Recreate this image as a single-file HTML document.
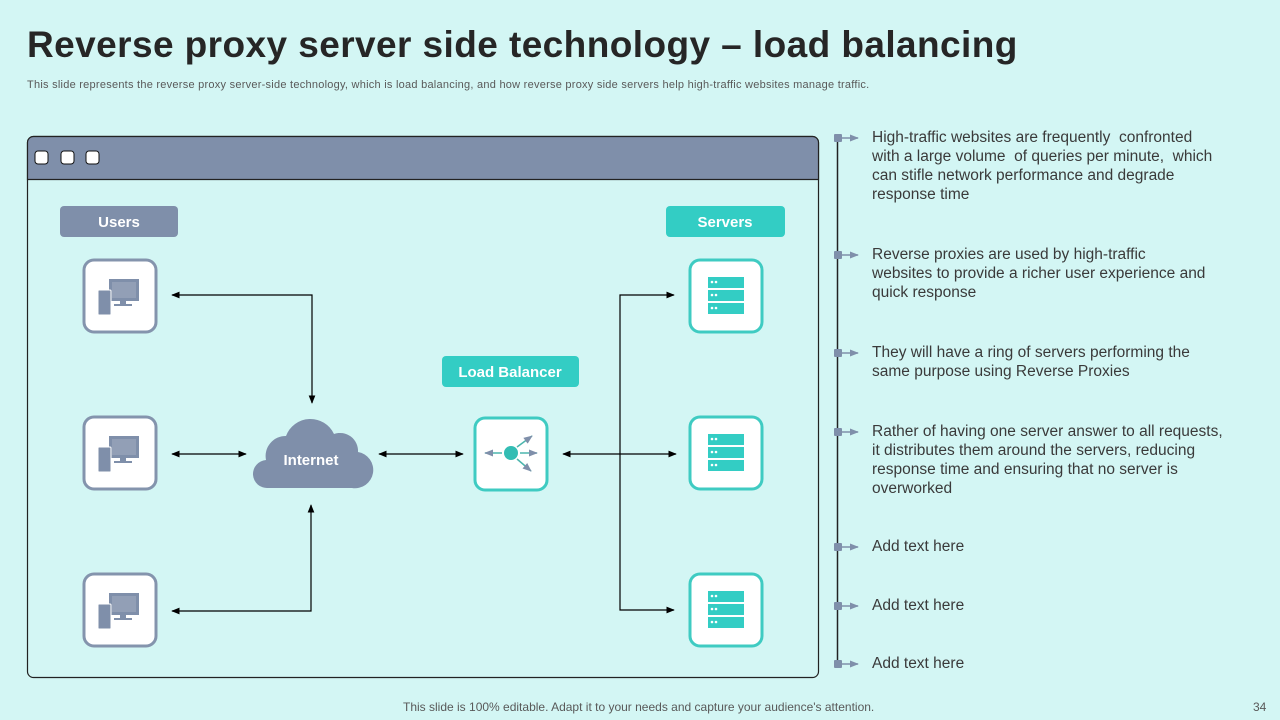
<!DOCTYPE html>
<html><head><meta charset="utf-8"><style>
body{margin:0;width:1280px;height:720px;background:#d3f6f4;font-family:"Liberation Sans",sans-serif;position:relative;overflow:hidden}
.t{position:absolute;left:27px;top:24px;font-size:37px;font-weight:bold;color:#262626;margin:0;white-space:nowrap;letter-spacing:0.42px}
.s{position:absolute;left:27px;top:79px;font-size:11px;color:#595959;letter-spacing:0.25px;white-space:nowrap}
.b{position:absolute;left:872px;font-size:15.5px;line-height:19px;color:#3a3a3a}
.f{position:absolute;top:700px;font-size:12px;color:#595959}
</style></head><body>
<div class="t">Reverse proxy server side technology – load balancing</div>
<div class="s">This slide represents the reverse proxy server-side technology, which is load balancing, and how reverse proxy side servers help high-traffic websites manage traffic.</div>
<svg width="1280" height="720" style="position:absolute;left:0;top:0">
<defs><marker id="a" viewBox="0 0 10 10" refX="9" refY="5" markerWidth="7" markerHeight="7" orient="auto-start-reverse"><path d="M0,1L10,5L0,9z" fill="#000"/></marker>
<marker id="g" viewBox="0 0 10 10" refX="9" refY="5" markerWidth="6" markerHeight="6" orient="auto"><path d="M0,1L10,5L0,9z" fill="#7f8faa"/></marker></defs>
<rect x="27.5" y="136.5" width="791" height="541" rx="6" fill="none" stroke="#222" stroke-width="1.2"/>
<path d="M27.5,179.5V142.5a6,6 0 0 1 6,-6H812.5a6,6 0 0 1 6,6V179.5Z" fill="#7f8faa" stroke="#222" stroke-width="1.2"/>
<g fill="#fff" stroke="#111" stroke-width="1"><rect x="35" y="151" width="13" height="13" rx="3"/><rect x="61" y="151" width="13" height="13" rx="3"/><rect x="86" y="151" width="13" height="13" rx="3"/></g>
<rect x="60" y="206" width="118" height="31" rx="4" fill="#7f8faa"/>
<text x="119" y="227" fill="#fff" font-size="15" font-weight="bold" text-anchor="middle">Users</text>
<rect x="666" y="206" width="119" height="31" rx="4" fill="#33cdc4"/>
<text x="725" y="227" fill="#fff" font-size="15" font-weight="bold" text-anchor="middle">Servers</text>
<rect x="442" y="356" width="137" height="31" rx="4" fill="#33cdc4"/>
<text x="510" y="377" fill="#fff" font-size="15" font-weight="bold" text-anchor="middle">Load Balancer</text>
<g id="u"><rect x="84" y="260" width="72" height="72" rx="10" fill="#fff" stroke="#8494ad" stroke-width="3"/>
<rect x="109" y="279" width="30" height="22" fill="#7f8faa"/><rect x="112" y="282" width="24" height="16" fill="#fff" opacity=".15"/><rect x="120" y="301" width="6" height="4" fill="#7f8faa"/><rect x="114" y="304" width="18" height="2" fill="#7f8faa"/>
<rect x="98" y="290" width="13" height="25" rx="1" fill="#7f8faa" stroke="#fff"/></g>
<use href="#u" y="157"/><use href="#u" y="314"/>
<g id="sv"><rect x="690" y="260" width="72" height="72" rx="10" fill="#fff" stroke="#3fcbc2" stroke-width="3"/>
<g fill="#33cdc4"><rect x="708" y="277" width="36" height="11"/><rect x="708" y="290" width="36" height="11"/><rect x="708" y="303" width="36" height="11"/></g>
<g fill="#fff"><circle cx="712" cy="282" r="1.3"/><circle cx="716" cy="282" r="1.3"/><circle cx="712" cy="295" r="1.3"/><circle cx="716" cy="295" r="1.3"/><circle cx="712" cy="308" r="1.3"/><circle cx="716" cy="308" r="1.3"/></g></g>
<use href="#sv" y="157"/><use href="#sv" y="314"/>
<rect x="475" y="418" width="72" height="72" rx="10" fill="#fff" stroke="#3fcbc2" stroke-width="3"/>
<circle cx="511" cy="453" r="7" fill="#33bdb4"/>
<g stroke="#4bb5ad" stroke-width="1.5"><line x1="502" y1="453" x2="485" y2="453" marker-end="url(#g)"/><line x1="520" y1="453" x2="537" y2="453" marker-end="url(#g)"/><line x1="517" y1="447" x2="532" y2="436" marker-end="url(#g)"/><line x1="517" y1="459" x2="531" y2="471" marker-end="url(#g)"/></g>
<path d="M268,488 a14,14 0 0 1 -2,-28 a20,20 0 0 1 20,-24 a26,26 0 0 1 48,-2 a18,18 0 0 1 24,18 a16,16 0 0 1 -6,36 z" fill="#7f8faa"/>
<text x="311" y="465" fill="#fff" font-size="15" font-weight="bold" text-anchor="middle">Internet</text>
<g stroke="#000" stroke-width="1.2" fill="none">
<path d="M312,403V295H172" marker-end="url(#a)" marker-start="url(#a)"/>
<line x1="172" y1="454" x2="246" y2="454" marker-start="url(#a)" marker-end="url(#a)"/>
<path d="M172,611H311V505" marker-start="url(#a)" marker-end="url(#a)"/>
<line x1="379" y1="454" x2="463" y2="454" marker-start="url(#a)" marker-end="url(#a)"/>
<line x1="563" y1="454" x2="676" y2="454" marker-start="url(#a)" marker-end="url(#a)"/>
<path d="M674,295H620V610H674" marker-start="url(#a)" marker-end="url(#a)"/>
</g>
<line x1="837.5" y1="138" x2="837.5" y2="668" stroke="#222" stroke-width="1.5"/>
<g stroke="#7f8faa" stroke-width="1.5">
<line x1="841" y1="138" x2="858" y2="138" marker-end="url(#g)"/><line x1="841" y1="255" x2="858" y2="255" marker-end="url(#g)"/><line x1="841" y1="353" x2="858" y2="353" marker-end="url(#g)"/><line x1="841" y1="432" x2="858" y2="432" marker-end="url(#g)"/><line x1="841" y1="547" x2="858" y2="547" marker-end="url(#g)"/><line x1="841" y1="606" x2="858" y2="606" marker-end="url(#g)"/><line x1="841" y1="664" x2="858" y2="664" marker-end="url(#g)"/></g>
<g fill="#7f8faa"><rect x="834" y="134" width="8" height="8" rx="1"/><rect x="834" y="251" width="8" height="8" rx="1"/><rect x="834" y="349" width="8" height="8" rx="1"/><rect x="834" y="428" width="8" height="8" rx="1"/><rect x="834" y="543" width="8" height="8" rx="1"/><rect x="834" y="602" width="8" height="8" rx="1"/><rect x="834" y="660" width="8" height="8" rx="1"/></g>
</svg>
<div class="b" style="top:128px">High-traffic websites are frequently &nbsp;confronted<br>with a large volume &nbsp;of queries per minute, &nbsp;which<br>can stifle network performance and degrade<br>response time</div>
<div class="b" style="top:245px">Reverse proxies are used by high-traffic<br>websites to provide a richer user experience and<br>quick response</div>
<div class="b" style="top:343px">They will have a ring of servers performing the<br>same purpose using Reverse Proxies</div>
<div class="b" style="top:422px">Rather of having one server answer to all requests,<br>it distributes them around the servers, reducing<br>response time and ensuring that no server is<br>overworked</div>
<div class="b" style="top:537px">Add text here</div>
<div class="b" style="top:596px">Add text here</div>
<div class="b" style="top:654px">Add text here</div>
<div class="f" style="left:403px">This slide is 100% editable. Adapt it to your needs and capture your audience's attention.</div>
<div class="f" style="left:1253px">34</div>
</body></html>
